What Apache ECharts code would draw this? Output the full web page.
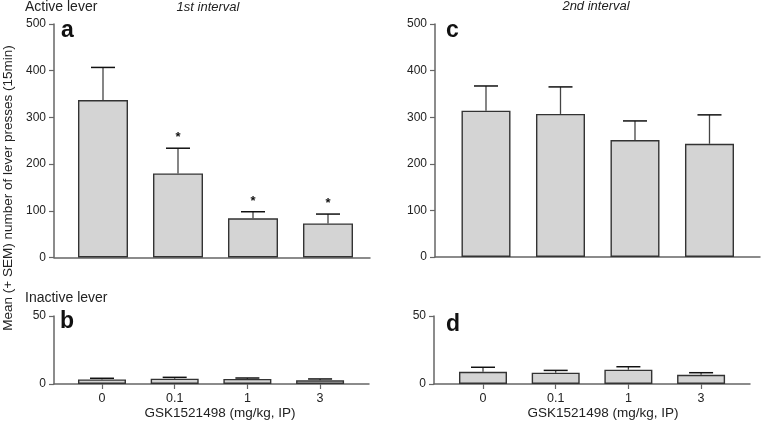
<!doctype html>
<html lang="en">
<head>
    <meta charset="UTF-8">
    <title>GSK1521498 lever presses</title>
    <script src="https://cdn.jsdelivr.net/npm/echarts@6/dist/echarts.min.js"></script>
    <style>
        html, body { margin: 0; padding: 0; background: #fff; }
        #chart { width: 761px; height: 427px; }
    </style>
</head>
<body>
<div id="chart"></div>
<script>
    // doses on the x axis
    var doses = ['0', '0.1', '1', '3'];

    // a: active lever, 1st interval
    var activeFirst = [337, 180, 84, 73];
    var activeFirstSem = [70, 54, 14, 20];
    var activeFirstSig = [false, true, true, true];

    // c: active lever, 2nd interval
    var activeSecond = [314, 307, 251, 243];
    var activeSecondSem = [53, 58, 41, 62];

    // b: inactive lever, 1st interval
    var inactiveFirst = [3.4, 3.9, 3.7, 2.7];
    var inactiveFirstSem = [0.8, 1.0, 0.7, 1.0];

    // d: inactive lever, 2nd interval
    var inactiveSecond = [9, 8.3, 10.5, 6.8];
    var inactiveSecondSem = [3.3, 1.7, 2.2, 1.5];

    var topTicks = [0, 100, 200, 300, 400, 500];
    var bottomTicks = [0, 50];

    var font = 'Liberation Sans, Arial, sans-serif';
    var textColor = '#222';
    var axisColor = '#666';

    function pts(vals) {
        return vals.map(function (v, i) { return [i + 1, v]; });
    }
    function errPts(vals, sem, sig) {
        return vals.map(function (v, i) { return [i + 1, v, v + sem[i], sig ? (sig[i] ? 1 : 0) : 0]; });
    }

    function xAxisFor(idx, min, max, showLabels) {
        return {
            gridIndex: idx, type: 'value', min: min, max: max,
            splitLine: { show: false },
            axisLine: { lineStyle: { color: axisColor, width: 1.5 } },
            axisTick: { show: showLabels, customValues: [1, 2, 3, 4], length: 5, lineStyle: { color: axisColor, width: 1.2 } },
            axisLabel: {
                show: showLabels, customValues: [1, 2, 3, 4], margin: 8,
                color: textColor, fontSize: 12.5, fontFamily: font,
                formatter: function (v) { return doses[Math.round(v) - 1]; }
            }
        };
    }
    function yAxisFor(idx, ticks) {
        return {
            gridIndex: idx, type: 'value', min: ticks[0], max: ticks[ticks.length - 1],
            interval: ticks[1] - ticks[0],
            splitLine: { show: false },
            axisLine: { show: true, lineStyle: { color: axisColor, width: 1.5 } },
            axisTick: { show: true, length: 5, lineStyle: { color: axisColor, width: 1.2 } },
            axisLabel: { color: textColor, fontSize: 12, fontFamily: font, margin: 8 }
        };
    }
    function barSeries(idx, vals, width) {
        return {
            type: 'bar', xAxisIndex: idx, yAxisIndex: idx,
            data: pts(vals), barWidth: width, silent: true,
            itemStyle: { color: '#d4d4d4', borderColor: '#333', borderWidth: 1.4 }
        };
    }
    function errSeries(idx, vals, sem, sig) {
        return {
            type: 'custom', xAxisIndex: idx, yAxisIndex: idx, silent: true, z: 1,
            data: errPts(vals, sem, sig),
            renderItem: function (params, api) {
                var base = api.coord([api.value(0), api.value(1)]);
                var top = api.coord([api.value(0), api.value(2)]);
                var children = [
                    { type: 'line', shape: { x1: base[0], y1: base[1], x2: top[0], y2: top[1] },
                      style: { stroke: '#444', lineWidth: 1.3 } },
                    { type: 'line', shape: { x1: top[0] - 12, y1: top[1], x2: top[0] + 12, y2: top[1] },
                      style: { stroke: '#111', lineWidth: 1.5 } }
                ];
                if (api.value(3)) {
                    children.push({ type: 'text', style: { text: '*', x: top[0], y: top[1] - 4,
                        textAlign: 'center', textVerticalAlign: 'bottom',
                        font: 'bold 13px ' + font, fill: '#111' } });
                }
                return { type: 'group', children: children };
            }
        };
    }
    function txt(x, y, s, opts) {
        var st = { text: s, fill: textColor, font: '14px ' + font };
        for (var k in opts) st[k] = opts[k];
        return { type: 'text', x: x, y: y, style: st, silent: true };
    }

    var chart = echarts.init(document.getElementById('chart'));
    var option = {
        animation: false,
        backgroundColor: '#fff',
        grid: [
            { left: 54, top: 24, width: 316, height: 233.5 },
            { left: 435, top: 24, width: 325, height: 233 },
            { left: 54, top: 316, width: 315, height: 68 },
            { left: 434, top: 316, width: 316, height: 68 }
        ],
        xAxis: [
            xAxisFor(0, 0.3467, 4.56, false),
            xAxisFor(1, 0.3154, 4.678, false),
            xAxisFor(2, 0.34, 4.673, true),
            xAxisFor(3, 0.326, 4.673, true)
        ],
        yAxis: [
            yAxisFor(0, topTicks),
            yAxisFor(1, topTicks),
            yAxisFor(2, bottomTicks),
            yAxisFor(3, bottomTicks)
        ],
        series: [
            errSeries(0, activeFirst, activeFirstSem, activeFirstSig),
            barSeries(0, activeFirst, 50),
            errSeries(1, activeSecond, activeSecondSem),
            barSeries(1, activeSecond, 49),
            errSeries(2, inactiveFirst, inactiveFirstSem),
            barSeries(2, inactiveFirst, 48),
            errSeries(3, inactiveSecond, inactiveSecondSem),
            barSeries(3, inactiveSecond, 48)
        ],
        graphic: [
            txt(25, 0, 'Active lever'),
            txt(208, 1, '1st interval', { font: 'italic 13px ' + font, textAlign: 'center' }),
            txt(596, 0, '2nd interval', { font: 'italic 13px ' + font, textAlign: 'center' }),
            txt(25, 291, 'Inactive lever'),
            txt(220, 406, 'GSK1521498 (mg/kg, IP)', { font: '13.5px ' + font, textAlign: 'center' }),
            txt(603, 406, 'GSK1521498 (mg/kg, IP)', { font: '13.5px ' + font, textAlign: 'center' }),
            txt(61, 19, 'a', { font: 'bold 23px ' + font, fill: '#111' }),
            txt(446, 19, 'c', { font: 'bold 23px ' + font, fill: '#111' }),
            txt(60, 310, 'b', { font: 'bold 23px ' + font, fill: '#111' }),
            txt(446, 313, 'd', { font: 'bold 23px ' + font, fill: '#111' }),
            { type: 'text', x: 1, y: 188, rotation: Math.PI / 2, silent: true,
              style: { text: 'Mean (+ SEM) number of lever presses (15min)', fill: textColor,
                       font: '13.5px ' + font, textAlign: 'center', textVerticalAlign: 'top' } }
        ]
    };
    chart.setOption(option);
</script>
</body>
</html>
